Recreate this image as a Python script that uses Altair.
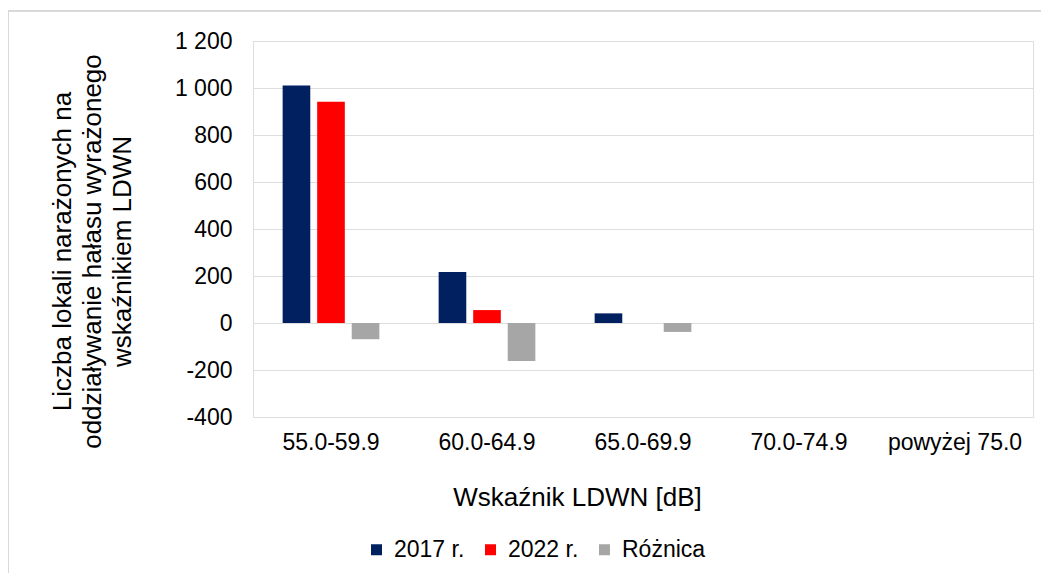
import altair as alt
import pandas as pd

categories = ["55.0-59.9", "60.0-64.9", "65.0-69.9", "70.0-74.9", "powyżej 75.0"]
series_names = ["2017 r.", "2022 r.", "Różnica"]
values_2017 = [1011, 217, 41, 0, 0]
values_2022 = [942, 55, 0, 0, 0]
values_diff = [-69, -162, -38, 0, 0]
colors = ["#002060", "#FF0000", "#A6A6A6"]
y_ticks = [-400, -200, 0, 200, 400, 600, 800, 1000, 1200]
y_title = ["Liczba lokali narażonych na", "oddziaływanie hałasu wyrażonego", "wskaźnikiem LDWN"]
x_title = "Wskaźnik LDWN [dB]"

rows = []
for i, c in enumerate(categories):
    for s, vals in zip(series_names, [values_2017, values_2022, values_diff]):
        rows.append({"cat": c, "series": s, "value": vals[i]})
df = pd.DataFrame(rows)

FONT = "Liberation Sans"
TXT = "#262626"

bars = alt.Chart(df).mark_bar().encode(
    x=alt.X(
        "cat:N", sort=categories,
        scale=alt.Scale(paddingInner=0.38, paddingOuter=0.19),
        axis=alt.Axis(
            title=x_title, labelAngle=0, ticks=False, domain=False, grid=False,
            labelPadding=14, labelFontSize=23, titleFontSize=26,
            titleFontWeight="normal", titleX=324, titleY=88,
            titleAlign="center", titleBaseline="alphabetic",
        ),
    ),
    xOffset=alt.XOffset("series:N", sort=series_names,
                        scale=alt.Scale(paddingInner=0.2, paddingOuter=0)),
    y=alt.Y(
        "value:Q",
        scale=alt.Scale(domain=[-400, 1200], nice=False, zero=False),
        axis=alt.Axis(
            values=y_ticks, title=y_title, ticks=False, domain=False, grid=True,
            labelPadding=21, labelFontSize=23,
            labelExpr="(datum.value < 0 ? '-' : '') + replace(format(abs(datum.value), ','), ',', ' ')",
            titleFontSize=26, titleFontWeight="normal", titleLineHeight=30,
            titleAngle=270, titleX=-191, titleY=210, titleAlign="center",
            titleBaseline="middle",
        ),
    ),
    color=alt.Color(
        "series:N", sort=series_names,
        scale=alt.Scale(domain=series_names, range=colors),
        legend=alt.Legend(
            title=None, orient="none", legendX=112, legendY=497,
            direction="horizontal", symbolType="square", symbolSize=121,
            symbolStrokeWidth=0, labelFontSize=23, labelOffset=6,
            columnPadding=14, padding=0,
        ),
    ),
)

frame_df = pd.DataFrame({"k": [0]})
frame_top = alt.Chart(frame_df).mark_rule(color="#d9d9d9", strokeWidth=2).encode(
    x=alt.value(-245), x2=alt.value(800), y=alt.value(-30)
)
frame_left = alt.Chart(frame_df).mark_rule(color="#d9d9d9", strokeWidth=2).encode(
    x=alt.value(-245), y=alt.value(-30), y2=alt.value(560)
)

chart = alt.layer(frame_top, frame_left, bars).properties(
    width=780, height=376,
    padding={"left": 245, "top": 33, "right": 8, "bottom": 156},
    autosize=alt.AutoSizeParams(type="none"),
).configure_view(stroke=None).configure_axis(
    gridColor="#d9d9d9", gridWidth=2, labelColor=TXT, titleColor=TXT,
    labelFont=FONT, titleFont=FONT,
).configure_legend(labelFont=FONT, labelColor=TXT).configure(background="white")

chart.save("out.html", embed_options={"renderer": "svg", "actions": False})
